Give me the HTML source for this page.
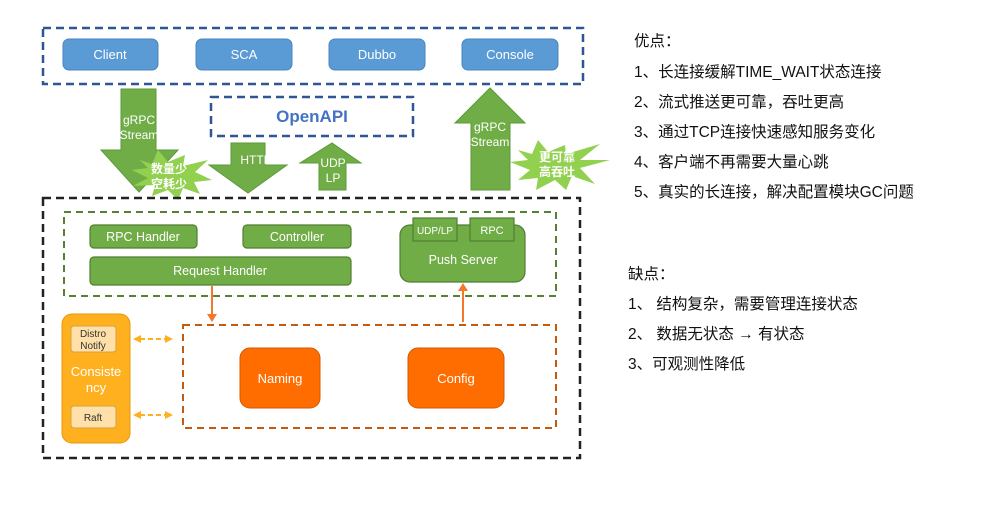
<!DOCTYPE html>
<html><head><meta charset="utf-8"><style>
html,body{margin:0;padding:0;background:#fff;}
svg{display:block;}
text{font-family:"Liberation Sans","Noto Sans CJK SC",sans-serif;}
</style></head><body>
<svg width="998" height="517" viewBox="0 0 998 517" xmlns="http://www.w3.org/2000/svg">
<!-- top box -->
<rect x="43" y="28" width="540" height="56" fill="none" stroke="#2f5597" stroke-width="2.5" stroke-dasharray="8,5"/>
<g fill="#5b9bd5" stroke="#4a86c0" stroke-width="1">
<rect x="63" y="39" width="95" height="31" rx="6"/>
<rect x="196" y="39" width="96" height="31" rx="6"/>
<rect x="329" y="39" width="96" height="31" rx="6"/>
<rect x="462" y="39" width="96" height="31" rx="6"/>
</g>
<g fill="#fff" font-size="13" text-anchor="middle">
<text x="110" y="59">Client</text><text x="244" y="59">SCA</text><text x="377" y="59">Dubbo</text><text x="510" y="59">Console</text>
</g>
<rect x="211" y="97" width="202" height="39" fill="none" stroke="#2f5597" stroke-width="2.5" stroke-dasharray="8,5"/>
<text x="312" y="122" font-size="17" font-weight="bold" fill="#4472c4" text-anchor="middle">OpenAPI</text>
<!-- arrows -->
<g fill="#70ad47" stroke="#5a9a38" stroke-width="1">
<polygon points="121,89 156,89 156,150 178,150 139,192 101,150 121,150"/>
<polygon points="231,143 265,143 265,165 287,165 248,193 209,165 231,165"/>
<polygon points="319,190 346,190 346,163 361,163 332,143 300,163 319,163"/>
<polygon points="471,190 510,190 510,123 525,123 490,88 455,123 471,123"/>
</g>
<g fill="#fff" font-size="12" text-anchor="middle">
<text x="139" y="124">gRPC</text><text x="139" y="139">Stream</text>
<text x="256" y="164">HTTP</text>
<text x="333" y="167">UDP</text><text x="333" y="182">LP</text>
<text x="490" y="131">gRPC</text><text x="490" y="146">Stream</text>
</g>
<!-- bursts -->
<polygon fill="#92d050" points="140,160 152,164 158,150 168,162 185,155 183,166 208,160 195,172 212,180 194,182 200,194 183,188 178,200 168,190 152,196 155,185 133,186 148,178 132,170 148,168" />
<polygon fill="#92d050" points="518,150 532,154 538,140 548,152 565,145 566,154 600,144 580,160 610,160 580,168 595,184 572,176 566,190 555,180 536,190 538,178 518,180 530,170 510,162 528,160"/>
<g fill="#fff" font-size="12" font-weight="bold" text-anchor="middle">
<text x="169" y="173">数量少</text><text x="169" y="188">空耗少</text>
<text x="557" y="161">更可靠</text><text x="557" y="176">高吞吐</text>
</g>
<!-- bottom box -->
<rect x="43" y="198" width="537" height="260" fill="none" stroke="#222" stroke-width="2.5" stroke-dasharray="8,5"/>
<rect x="64" y="212" width="492" height="84" fill="none" stroke="#548235" stroke-width="2" stroke-dasharray="7,5"/>
<g fill="#70ad47" stroke="#507e32" stroke-width="1.2">
<rect x="90" y="225" width="107" height="23" rx="4"/>
<rect x="243" y="225" width="108" height="23" rx="4"/>
<rect x="90" y="257" width="261" height="28" rx="4"/>
<rect x="400" y="225" width="125" height="57" rx="10"/>
<rect x="413" y="218" width="44" height="23"/>
<rect x="470" y="218" width="44" height="23"/>
</g>
<g fill="#fff" text-anchor="middle" font-size="12.5">
<text x="143" y="241">RPC Handler</text><text x="297" y="241">Controller</text>
<text x="220" y="275">Request Handler</text><text x="463" y="264">Push Server</text>
<text x="435" y="234" font-size="10">UDP/LP</text><text x="492" y="234" font-size="11">RPC</text>
</g>
<!-- orange -->
<g stroke="#f4782a" stroke-width="2" fill="#f4782a">
<line x1="212" y1="286" x2="212" y2="315"/><polygon points="207,314 217,314 212,322" stroke="none"/>
<line x1="463" y1="322" x2="463" y2="290"/><polygon points="458,291 468,291 463,283" stroke="none"/>
</g>
<rect x="183" y="325" width="373" height="103" fill="none" stroke="#c55a11" stroke-width="2" stroke-dasharray="7,5"/>
<rect x="240" y="348" width="80" height="60" rx="10" fill="#ff6d00" stroke="#d05a00"/>
<rect x="408" y="348" width="96" height="60" rx="10" fill="#ff6d00" stroke="#d05a00"/>
<g fill="#fff" font-size="13" text-anchor="middle"><text x="280" y="383">Naming</text><text x="456" y="383">Config</text></g>
<!-- consistency -->
<rect x="62" y="314" width="68" height="129" rx="10" fill="#ffb01e" stroke="#e39a0a"/>
<rect x="71" y="326" width="45" height="26" rx="3" fill="#ffe0a8" stroke="#d8a040"/>
<rect x="71" y="406" width="45" height="22" rx="3" fill="#ffe0a8" stroke="#d8a040"/>
<g text-anchor="middle" font-size="10" fill="#333"><text x="93" y="337">Distro</text><text x="93" y="349">Notify</text><text x="93" y="421">Raft</text></g>
<g text-anchor="middle" font-size="13" fill="#fff"><text x="96" y="376">Consiste</text><text x="96" y="392">ncy</text></g>
<g stroke="#ffb01e" stroke-width="2" stroke-dasharray="5,3">
<line x1="140" y1="339" x2="166" y2="339"/><line x1="140" y1="415" x2="166" y2="415"/>
</g>
<g fill="#ffb01e">
<polygon points="133,339 141,335 141,343"/><polygon points="173,339 165,335 165,343"/>
<polygon points="133,415 141,411 141,419"/><polygon points="173,415 165,411 165,419"/>
</g>
<!-- right text -->
<g font-size="15.5" fill="#111">
<text x="634" y="46">优点：</text>
<text x="634" y="77">1、长连接缓解TIME_WAIT状态连接</text>
<text x="634" y="107">2、流式推送更可靠，吞吐更高</text>
<text x="634" y="137">3、通过TCP连接快速感知服务变化</text>
<text x="634" y="167">4、客户端不再需要大量心跳</text>
<text x="634" y="197">5、真实的长连接，解决配置模块GC问题</text>
<text x="628" y="279">缺点：</text>
<text x="628" y="309">1、 结构复杂，需要管理连接状态</text>
<text x="628" y="339">2、 数据无状态 → 有状态</text>
<text x="628" y="369">3、可观测性降低</text>
</g>
</svg>
</body></html>
